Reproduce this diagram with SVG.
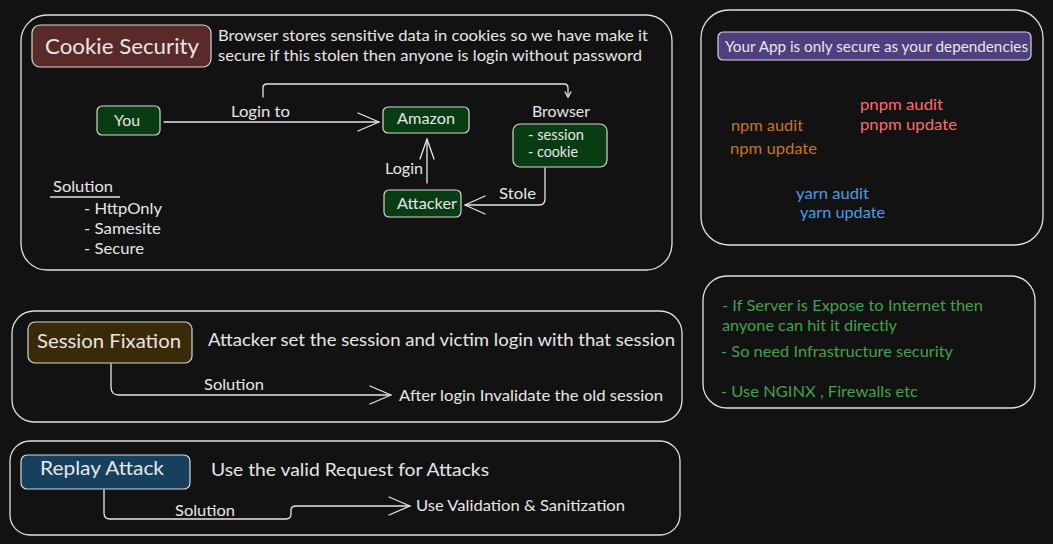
<svg xmlns="http://www.w3.org/2000/svg" width="1053" height="544" viewBox="0 0 1053 544">
<style>
text{font-family:Lato,"Noto Sans","Liberation Sans",sans-serif;fill:#e6e6e6}
.panel{fill:#121212;stroke:#e0e0e0;stroke-width:1.3}
.node{stroke:#d8d8d8;stroke-width:1.2}
.g{fill:#083c12}
.ln{fill:none;stroke:#e6e6e6;stroke-width:1.3;stroke-linecap:round;stroke-linejoin:round}
.t15{font-size:16px}
.c{text-anchor:middle}
.npm{fill:#c8760f}
.pnpm{fill:#ff6b6b}
.yarn{fill:#4a9ee8}
.grn{fill:#3fa34a}
</style>
<rect width="1053" height="544" fill="#121212"/>

<g id="panel-cookie">
<rect class="panel" x="21" y="15" width="651" height="255" rx="26"/>
</g>
<g id="panel-deps">
<rect class="panel" x="701" y="10" width="342" height="235" rx="28"/>
</g>
<g id="panel-infra">
<rect class="panel" x="703" y="276" width="332" height="132" rx="24"/>
</g>
<g id="panel-session">
<rect class="panel" x="12" y="311" width="670" height="111" rx="22"/>
</g>
<g id="panel-replay">
<rect class="panel" x="10" y="441" width="670" height="94" rx="20"/>
</g>

<g id="cookie-security">
<rect class="node" x="32" y="25" width="179" height="42" rx="8" fill="#5a2a2a"/>
<text x="45" y="54" font-size="21" textLength="154" lengthAdjust="spacingAndGlyphs">Cookie Security</text>
</g>
<g id="cookie-desc">
<text x="218" y="41" font-size="16" textLength="430" lengthAdjust="spacingAndGlyphs">Browser stores sensitive data in cookies so we have make it</text>
<text x="218" y="61" font-size="16" textLength="424" lengthAdjust="spacingAndGlyphs">secure if this stolen then anyone is login without password</text>
</g>
<g id="you">
<rect class="node g" x="97" y="106" width="63" height="29" rx="5"/>
<text x="114" y="126" class="t15" textLength="26" lengthAdjust="spacingAndGlyphs">You</text>
</g>
<g id="amazon">
<rect class="node g" x="383" y="107" width="86" height="26" rx="5"/>
<text x="397" y="124" class="t15" textLength="58" lengthAdjust="spacingAndGlyphs">Amazon</text>
</g>
<g id="browser">
<text x="532" y="117" class="t15" textLength="58" lengthAdjust="spacingAndGlyphs">Browser</text>
<rect class="node g" x="513" y="124" width="94" height="43" rx="7"/>
<text x="528" y="140" font-size="14.5" textLength="56" lengthAdjust="spacingAndGlyphs">- session</text>
<text x="528" y="157" font-size="14.5" textLength="50" lengthAdjust="spacingAndGlyphs">- cookie</text>
</g>
<g id="attacker">
<rect class="node g" x="384" y="190" width="77" height="27" rx="5"/>
<text x="397" y="209" class="t15" textLength="60" lengthAdjust="spacingAndGlyphs">Attacker</text>
</g>
<g id="cookie-solution">
<text x="53" y="192" class="t15" textLength="60" lengthAdjust="spacingAndGlyphs">Solution</text>
<line x1="50" y1="197" x2="120" y2="197" stroke="#e0e0e0" stroke-width="1.3"/>
<text x="84" y="214" class="t15" textLength="78" lengthAdjust="spacingAndGlyphs">- HttpOnly</text>
<text x="84" y="234" class="t15" textLength="77" lengthAdjust="spacingAndGlyphs">- Samesite</text>
<text x="84" y="254" class="t15" textLength="60" lengthAdjust="spacingAndGlyphs">- Secure</text>
</g>

<g id="deps-title">
<rect class="node" x="718" y="32" width="313" height="28" rx="5" fill="#4f3f7f"/>
<text x="725" y="52" font-size="15" textLength="303" lengthAdjust="spacingAndGlyphs">Your App is only secure as your dependencies</text>
</g>
<g id="deps-cmds">
<text x="731" y="131" class="t15 npm" textLength="72" lengthAdjust="spacingAndGlyphs">npm audit</text>
<text x="730" y="154" class="t15 npm" textLength="87" lengthAdjust="spacingAndGlyphs">npm update</text>
<text x="860" y="110" class="t15 pnpm" textLength="83" lengthAdjust="spacingAndGlyphs">pnpm audit</text>
<text x="860" y="130" class="t15 pnpm" textLength="97" lengthAdjust="spacingAndGlyphs">pnpm update</text>
<text x="796" y="199" class="t15 yarn" textLength="73" lengthAdjust="spacingAndGlyphs">yarn audit</text>
<text x="800" y="218" class="t15 yarn" textLength="85" lengthAdjust="spacingAndGlyphs">yarn update</text>
</g>

<g id="infra-text">
<text x="722" y="311" class="t15 grn" textLength="261" lengthAdjust="spacingAndGlyphs">- If Server is Expose to Internet then</text>
<text x="722" y="331" class="t15 grn" textLength="175" lengthAdjust="spacingAndGlyphs">anyone can hit it directly</text>
<text x="721" y="357" class="t15 grn" textLength="232" lengthAdjust="spacingAndGlyphs">- So need Infrastructure security</text>
<text x="721" y="397" class="t15 grn" textLength="197" lengthAdjust="spacingAndGlyphs">- Use NGINX , Firewalls etc</text>
</g>

<g id="session-fixation">
<rect class="node" x="28" y="322" width="164" height="41" rx="7" fill="#3a2a08"/>
<text x="37" y="348" font-size="19" textLength="144" lengthAdjust="spacingAndGlyphs">Session Fixation</text>
</g>
<g id="session-desc">
<text x="208" y="346" font-size="17.5" textLength="467" lengthAdjust="spacingAndGlyphs">Attacker set the session and victim login with that session</text>
<text x="399" y="401" class="t15" textLength="264" lengthAdjust="spacingAndGlyphs">After login Invalidate the old session</text>
</g>

<g id="replay-attack">
<rect class="node" x="21" y="455" width="169" height="34" rx="6" fill="#17405e"/>
<text x="40" y="475" font-size="19" textLength="124" lengthAdjust="spacingAndGlyphs">Replay Attack</text>
</g>
<g id="replay-desc">
<text x="211" y="476" font-size="17.5" textLength="278" lengthAdjust="spacingAndGlyphs">Use the valid Request for Attacks</text>
<text x="416" y="511" class="t15" textLength="209" lengthAdjust="spacingAndGlyphs">Use Validation &amp; Sanitization</text>
</g>

<g id="connectors">
<path class="ln" d="M263 97 V88 Q263 84 267 84 H564 Q568 84 568 88 V97"/>
<path class="ln" d="M565 92 L568 97 L571 92"/>
<path class="ln" d="M164 122 H379"/>
<path class="ln" d="M358 113 L379 122 L358 131"/>
<text x="231" y="117" class="t15" textLength="59" lengthAdjust="spacingAndGlyphs">Login to</text>
<path class="ln" d="M427 183 V139"/>
<path class="ln" d="M420 159 L427 139 L434 159"/>
<text x="385" y="174" class="t15" textLength="38" lengthAdjust="spacingAndGlyphs">Login</text>
<path class="ln" d="M545 168 V199 Q545 205 539 205 H465"/>
<path class="ln" d="M485 196 L465 205 L485 214"/>
<text x="499" y="199" class="t15" textLength="37" lengthAdjust="spacingAndGlyphs">Stole</text>
<path class="ln" d="M111 364 V387 Q111 395 119 395 H391"/>
<path class="ln" d="M370 386 L391 395 L370 404"/>
<text x="204" y="390" class="t15" textLength="60" lengthAdjust="spacingAndGlyphs">Solution</text>
<path class="ln" d="M104 490 V513 Q104 519 110 519 H286 Q291 519 291 514 V510 Q291 506 296 506 H410"/>
<path class="ln" d="M389 497 L410 506 L389 515"/>
<text x="175" y="516" class="t15" textLength="60" lengthAdjust="spacingAndGlyphs">Solution</text>
</g>
</svg>
